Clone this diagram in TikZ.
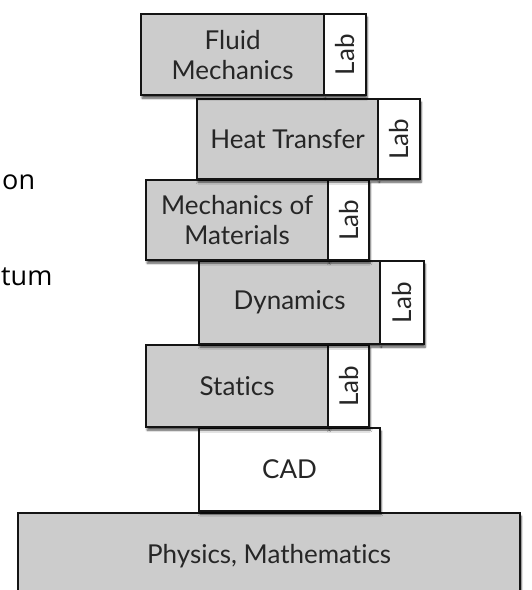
\documentclass[tikz,border=0pt]{standalone}
\usepackage{fontspec}
\setmainfont[Ligatures={NoCommon}]{Lato}
\newfontfamily\sidefont{Open Sans}
\usetikzlibrary{shadows.blur}
\definecolor{boxgray}{RGB}{204,204,204}
\definecolor{edge}{RGB}{20,20,20}
\tikzset{
  blk/.style={draw=edge, line width=2.2pt, anchor=north west, inner sep=0pt,
    align=center, font=\fontsize{26}{30}\selectfont, text=black!85,
    blur shadow={shadow xshift=1pt, shadow yshift=-3pt, shadow blur steps=6, shadow opacity=70}},
  course/.style={blk, fill=boxgray},
  lab/.style={blk, fill=white},
  side/.style={anchor=base west, inner sep=0pt, font=\sidefont\fontsize{27}{32}\selectfont}
}
\newcommand{\course}[6]{\node[course, minimum width=#4pt-#2pt, minimum height=#5pt-#3pt] (#1) at (#2,#3) {#6};}
\newcommand{\labbox}[5]{\node[lab, minimum width=#4pt-#2pt, minimum height=#5pt-#3pt] (#1) at (#2,#3) {\rotatebox{90}{Lab}};}
\begin{document}
\begin{tikzpicture}[x=1pt,y=-1pt]
\useasboundingbox (0,0) rectangle (532,590);
\begin{scope}
\clip (0,0) rectangle (532,590);
\course{phys}{17}{512}{519}{598}{Physics, Mathematics}
\node[course, fill=white, minimum width=181pt, minimum height=83pt] (cad) at (198,427) {CAD};
\course{stat}{145}{344}{327}{426}{Statics}
\labbox{statlab}{327}{344}{368}{426}
\course{dyn}{198}{260}{379}{343}{Dynamics}
\labbox{dynlab}{379}{260}{423}{343}
\course{mom}{145}{179}{327}{259}{Mechanics of\\Materials}
\labbox{momlab}{327}{179}{368}{259}
\course{heat}{196}{98}{377}{178}{Heat Transfer}
\labbox{heatlab}{377}{98}{419}{178}
\course{fluid}{140}{13}{323}{94}{Fluid\\Mechanics}
\labbox{fluidlab}{323}{13}{365}{94}
\node[side] (on) at (2,189) {on};
\node[side] (tum) at (1,285) {tum};
\end{scope}
\end{tikzpicture}
\end{document}
